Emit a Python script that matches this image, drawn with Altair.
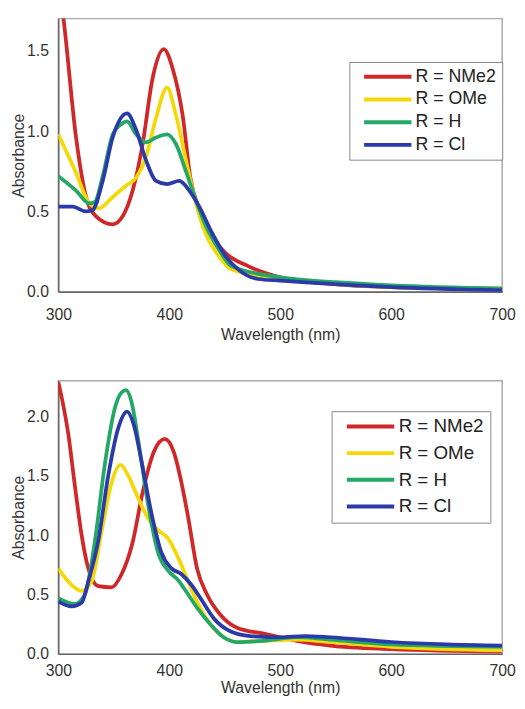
import altair as alt
import pandas as pd

series = ["R = NMe2", "R = OMe", "R = H", "R = Cl"]
colors = ["#d02828", "#f5d80a", "#25a866", "#2a3aa8"]

# Top panel
top_nme2_x = [300, 305, 316, 325, 334, 349, 358, 367, 376, 385, 395, 403, 412, 419, 427, 439, 451, 471, 500, 546, 600, 700]
top_nme2_y = [1.95, 1.68, 0.96, 0.59, 0.47, 0.42, 0.47, 0.63, 0.92, 1.33, 1.51, 1.39, 1.10, 0.71, 0.51, 0.34, 0.24, 0.16, 0.09, 0.05, 0.03, 0.02]
top_ome_x = [300, 316, 328, 337, 349, 361, 370, 379, 388, 398, 406, 415, 424, 433, 445, 456, 500, 550, 600, 700]
top_ome_y = [0.98, 0.74, 0.55, 0.52, 0.59, 0.66, 0.71, 0.84, 1.08, 1.27, 1.10, 0.82, 0.55, 0.36, 0.22, 0.14, 0.08, 0.05, 0.03, 0.02]
top_h_x = [300, 316, 328, 333, 340, 349, 356, 362, 370, 379, 388, 398, 406, 415, 424, 433, 445, 456, 500, 550, 600, 700]
top_h_y = [0.72, 0.63, 0.55, 0.56, 0.72, 0.98, 1.04, 1.06, 0.98, 0.93, 0.96, 0.98, 0.92, 0.75, 0.57, 0.41, 0.26, 0.16, 0.09, 0.06, 0.04, 0.02]
top_cl_x = [300, 313, 325, 331, 340, 349, 362, 370, 379, 388, 398, 409, 418, 427, 439, 451, 462, 480, 500, 600, 700]
top_cl_y = [0.53, 0.53, 0.50, 0.51, 0.69, 0.96, 1.11, 1.01, 0.82, 0.69, 0.67, 0.69, 0.63, 0.53, 0.36, 0.22, 0.14, 0.08, 0.07, 0.03, 0.01]

# Bottom panel
bot_nme2_x = [300, 309, 315, 321, 327, 336, 348, 357, 367, 376, 386, 396, 404, 411, 417, 425, 434, 446, 461, 485, 500, 515, 545, 600, 700]
bot_nme2_y = [2.29, 1.85, 1.41, 1.00, 0.72, 0.57, 0.56, 0.67, 0.94, 1.36, 1.70, 1.81, 1.70, 1.44, 1.15, 0.72, 0.50, 0.33, 0.22, 0.17, 0.14, 0.11, 0.07, 0.04, 0.02]
bot_ome_x = [300, 312, 321, 330, 339, 348, 356, 363, 372, 381, 390, 399, 408, 417, 425, 437, 449, 461, 485, 515, 545, 600, 700]
bot_ome_y = [0.72, 0.58, 0.53, 0.61, 1.03, 1.44, 1.59, 1.50, 1.31, 1.14, 1.04, 0.97, 0.81, 0.61, 0.44, 0.25, 0.14, 0.10, 0.11, 0.12, 0.10, 0.06, 0.03]
bot_h_x = [300, 315, 324, 333, 342, 351, 357, 361, 366, 372, 381, 390, 399, 408, 417, 425, 437, 449, 461, 485, 515, 545, 600, 700]
bot_h_y = [0.47, 0.42, 0.50, 0.95, 1.60, 2.07, 2.20, 2.22, 2.12, 1.80, 1.25, 0.85, 0.70, 0.62, 0.50, 0.39, 0.25, 0.14, 0.10, 0.11, 0.14, 0.12, 0.08, 0.06]
bot_cl_x = [300, 312, 321, 327, 336, 345, 354, 362, 368, 375, 384, 393, 402, 411, 420, 428, 440, 455, 473, 500, 522, 545, 600, 650, 700]
bot_cl_y = [0.44, 0.40, 0.43, 0.61, 0.95, 1.50, 1.90, 2.04, 1.93, 1.62, 1.18, 0.85, 0.72, 0.67, 0.58, 0.47, 0.30, 0.19, 0.15, 0.14, 0.15, 0.14, 0.10, 0.08, 0.07]


def frame(pairs):
    rows = []
    for i, (xs, ys) in enumerate(pairs):
        for x, y in zip(xs, ys):
            rows.append({"wl": x, "abs": y, "series": series[i], "order": i})
    return pd.DataFrame(rows)


top_df = frame([(top_nme2_x, top_nme2_y), (top_ome_x, top_ome_y), (top_h_x, top_h_y), (top_cl_x, top_cl_y)])
bot_df = frame([(bot_nme2_x, bot_nme2_y), (bot_ome_x, bot_ome_y), (bot_h_x, bot_h_y), (bot_cl_x, bot_cl_y)])

FONT = "Liberation Sans"


def panel(df, ymax, yvals, lx, ly, rowpad, lfs, lpad, tpad):
    return alt.Chart(df).mark_line(strokeWidth=3.8, interpolate="monotone", clip=True).encode(
        x=alt.X("wl:Q", scale=alt.Scale(domain=[300, 700], nice=False),
                axis=alt.Axis(title="Wavelength (nm)", values=[300, 400, 500, 600, 700],
                              format="d", labelPadding=lpad, titlePadding=tpad, labelFlush=False)),
        y=alt.Y("abs:Q", scale=alt.Scale(domain=[0, ymax], nice=False),
                axis=alt.Axis(title="Absorbance", values=yvals, format=".1f",
                              labelPadding=10, titlePadding=0)),
        color=alt.Color("series:N", sort=series,
                        scale=alt.Scale(domain=series, range=colors),
                        legend=alt.Legend(title=None, orient="none", legendX=lx, legendY=ly,
                                          symbolType="M0,0H8", symbolSize=144, symbolStrokeWidth=4,
                                          labelFontSize=lfs, labelFont=FONT, labelColor="#222",
                                          labelOffset=43, rowPadding=rowpad,
                                          strokeColor="#888", fillColor="white",
                                          padding=6)),
        order=alt.Order("order:Q", sort="ascending"),
        detail="series:N",
    ).properties(width=450, height=277)


top = panel(top_df, 1.7, [0.0, 0.5, 1.0, 1.5], 295, 44, 5, 18, 15, 4)
bot = panel(bot_df, 2.3, [0.0, 0.5, 1.0, 1.5, 2.0], 277, 31, 7, 19, 9, 1)

chart = alt.vconcat(top, bot, spacing=37).resolve_scale(color="independent").properties(
    padding={"left": 2, "top": 5, "right": 0, "bottom": 0}
).configure_view(
    stroke="#aaa", strokeWidth=1.5
).configure_axis(
    labelFont=FONT, titleFont=FONT, labelFontSize=16, titleFontSize=16,
    titleFontWeight="normal", labelColor="#333", titleColor="#333",
    domainColor="#666", domainWidth=1.5, ticks=False, grid=False,
)

chart.save("out.html", embed_options={"renderer": "svg", "actions": False})
